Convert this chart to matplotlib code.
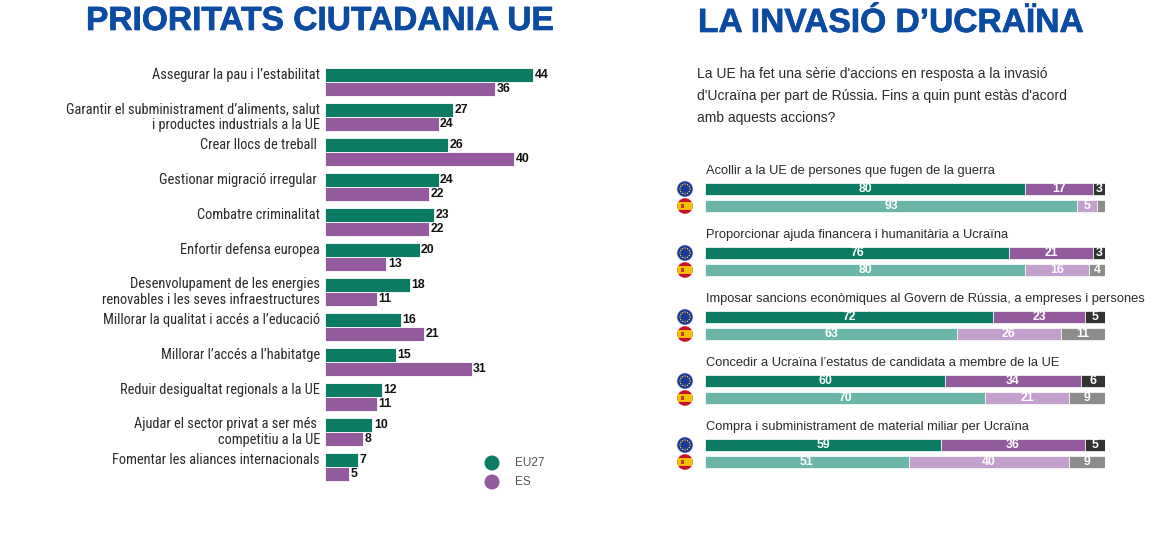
import math
import matplotlib
matplotlib.use("Agg")
import matplotlib.pyplot as plt
import matplotlib.patheffects as pe
from matplotlib import font_manager as fm
from matplotlib.patches import Circle, Rectangle

# ---------------- data ----------------
priorities = [
    "Assegurar la pau i l\u2019estabilitat",
    "Garantir el subministrament d\u2019aliments, salut\ni productes industrials a la UE",
    "Crear llocs de treball ",
    "Gestionar migració irregular ",
    "Combatre criminalitat",
    "Enfortir defensa europea",
    "Desenvolupament de les energies\nrenovables i les seves infraestructures",
    "Millorar la qualitat i accés a l\u2019educació",
    "Millorar l\u2019accés a l\u2019habitatge",
    "Reduir desigualtat regionals a la UE",
    "Ajudar el sector privat a ser més \ncompetitiu a la UE",
    "Fomentar les aliances internacionals",
]
eu27 = [44, 27, 26, 24, 23, 20, 18, 16, 15, 12, 10, 7]
es = [36, 24, 40, 22, 22, 13, 11, 21, 31, 11, 8, 5]
series_labels = ["EU27", "ES"]

actions = [
    "Acollir a la UE de persones que fugen de la guerra",
    "Proporcionar ajuda financera i humanitària a Ucraïna",
    "Imposar sancions econòmiques al Govern de Rússia, a empreses i persones",
    "Concedir a Ucraïna l\u2019estatus de candidata a membre de la UE",
    "Compra i subministrament de material miliar per Ucraïna",
]
eu_agree = [80, 76, 72, 60, 59]
eu_disagree = [17, 21, 23, 34, 36]
eu_dk = [3, 3, 5, 6, 5]
es_agree = [93, 80, 63, 70, 51]
es_disagree = [5, 16, 26, 21, 40]
es_dk = [2, 4, 11, 9, 9]

title_left = "PRIORITATS CIUTADANIA UE"
title_right = "LA INVASIÓ D\u2019UCRAÏNA"
subtitle = ("La UE ha fet una sèrie d'accions en resposta a la invasió\n"
            "d'Ucraïna per part de Rússia. Fins a quin punt estàs d'acord\n"
            "amb aquests accions?")

# ---------------- style ----------------
GREEN = "#0b7b64"
PURPLE = "#935a9e"
DARK = "#333333"
LTEAL = "#6bb6a8"
LPURPLE = "#c4a0ce"
GREY = "#8c8c8c"
BLUE = "#0b4ca2"
TXT = "#2b2b2b"


def pick(*names):
    for n in names:
        try:
            fm.findfont(fm.FontProperties(family=n), fallback_to_default=False)
            return n
        except Exception:
            pass
    return "DejaVu Sans"


NARROW = pick("Liberation Sans Narrow", "Roboto Condensed", "Liberation Sans")
SANS = pick("Liberation Sans", "Roboto", "DejaVu Sans")

W, H, DPI = 1170, 540, 100
fig = plt.figure(figsize=(W / DPI, H / DPI), dpi=DPI)
fig.patch.set_facecolor("white")


def px_axes(x0, y0, x1, y1):
    return fig.add_axes([x0 / W, 1 - y1 / H, (x1 - x0) / W, (y1 - y0) / H])


renderer = fig.canvas.get_renderer()


def fit_text(x_px, y_px, s, width_px, **kw):
    t = fig.text(x_px / W, 1 - y_px / H, s, **kw)
    w = t.get_window_extent(renderer).width
    t.set_fontsize(t.get_fontsize() * width_px / w)
    return t


# titles
stroke = [pe.withStroke(linewidth=0.5, foreground=BLUE)]
fit_text(86, 30, title_left, 468, fontsize=24, fontweight="bold",
         family=[SANS, "DejaVu Sans"], color=BLUE, va="baseline", ha="left",
         path_effects=stroke)
fit_text(698, 32, title_right, 386, fontsize=24, fontweight="bold",
         family=[SANS, "DejaVu Sans"], color=BLUE, va="baseline", ha="left",
         path_effects=stroke)

# ---------------- left chart ----------------
PXU = 4.73  # pixels per percentage point
axL = px_axes(325, 60, 560, 490)
axL.set_xlim(0, 235 / PXU)
gsp = 35.0
axL.set_ylim((490 - 82) / gsp, (60 - 82) / gsp)
axL.axis("off")
n = len(priorities)
ys = list(range(n))
off = 7.2 / gsp
bh = 14.5 / gsp
axL.barh([y - off for y in ys], eu27, height=bh, color=GREEN,
         edgecolor="white", linewidth=0.6)
axL.barh([y + off for y in ys], es, height=bh, color=PURPLE,
         edgecolor="white", linewidth=0.6)
for y, v in zip(ys, eu27):
    axL.text(v + 1.5 / PXU, y - off, str(v), va="center", ha="left",
             fontsize=8.8, fontweight="bold", family=SANS, color="#111111")
for y, v in zip(ys, es):
    axL.text(v + 1.5 / PXU, y + off, str(v), va="center", ha="left",
             fontsize=8.8, fontweight="bold", family=SANS, color="#111111")
for y, lab in zip(ys, priorities):
    yy = y if "\n" in lab else y - off
    axL.text(-5 / PXU, yy, lab, ha="right", va="center", fontsize=10.4,
             family=[NARROW, "DejaVu Sans"], color=TXT, linespacing=1.1,
             clip_on=False)

# legend (manual)
for i, (lab, col) in enumerate(zip(series_labels, [GREEN, PURPLE])):
    yp = 463 + 19 * i
    fig.patches.append(Circle((492, H - yp), 7.5, transform=None,
                              facecolor=col, edgecolor="none"))
    fig.text(515 / W, 1 - yp / H, lab, ha="left", va="center", fontsize=8.5,
             family=SANS, color="#555555")

# ---------------- right chart ----------------
axR = px_axes(705, 150, 1105, 480)
axR.set_xlim(0, 100)
rsp = 64.0
axR.set_ylim((480 - 189) / rsp, (150 - 189) / rsp)
axR.axis("off")
m = len(actions)
ry = list(range(m))
roff = 17 / rsp
rbh = 12.5 / rsp

rows = [
    ([y for y in ry], [eu_agree, eu_disagree, eu_dk], [GREEN, PURPLE, DARK]),
    ([y + roff for y in ry], [es_agree, es_disagree, es_dk], [LTEAL, LPURPLE, GREY]),
]
for ypos, segs, cols in rows:
    left = [0] * m
    for vals, col in zip(segs, cols):
        axR.barh(ypos, vals, left=left, height=rbh, color=col,
                 edgecolor="white", linewidth=0.5)
        for y, l, v in zip(ypos, left, vals):
            if v >= 3:
                axR.text(l + v / 2, y, str(v), ha="center", va="center",
                         fontsize=8.8, fontweight="bold", family=SANS,
                         color="white")
        left = [a + b for a, b in zip(left, vals)]

for y, lab in zip(ry, actions):
    axR.text(0.2, y - 18 / rsp, lab, ha="left", va="center", fontsize=9.3,
             family=SANS, color=TXT, clip_on=False)

fig.text(697 / W, 1 - 67 / H, subtitle, ha="left", va="top", fontsize=10,
         family=SANS, color=TXT, linespacing=1.72)

# flags
for y in ry:
    # EU flag
    cx, cy = axR.transData.transform((0, y))
    cx = 685
    fig.patches.append(Circle((cx, cy), 7.8, transform=None,
                              facecolor="#1d3c9a", edgecolor="none"))
    for k in range(12):
        a = 2 * math.pi * k / 12
        fig.patches.append(Circle((cx + 5 * math.cos(a), cy + 5 * math.sin(a)),
                                  0.7, transform=None, facecolor="#f2d21b",
                                  edgecolor="none"))
    # Spanish flag
    sx, sy = axR.transData.transform((0, y + roff))
    sx = 685
    base = Circle((sx, sy), 7.8, transform=None, facecolor="#c8102e",
                  edgecolor="none")
    fig.patches.append(base)
    band = Rectangle((sx - 8, sy - 4), 16, 8, transform=None,
                     facecolor="#f6c200", edgecolor="none")
    band.set_clip_path(base)
    fig.patches.append(band)
    fig.patches.append(Rectangle((sx - 4, sy - 2), 2.5, 4, transform=None,
                                 facecolor="#b5462b", edgecolor="none"))

fig.savefig("out.png", dpi=DPI, facecolor="white")
